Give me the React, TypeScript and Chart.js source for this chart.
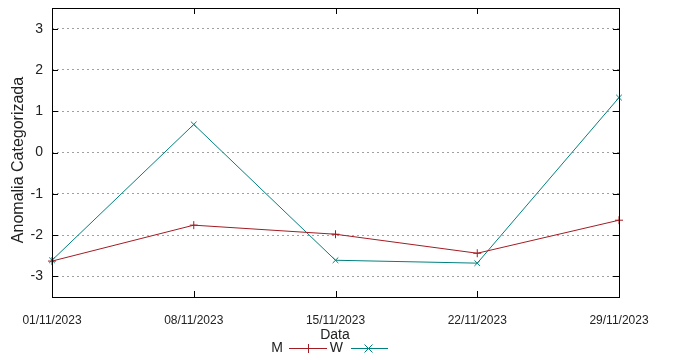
import React, { useEffect, useRef } from "react";
import { Chart, registerables } from "chart.js";

Chart.register(...registerables);

const categories = ["01/11/2023", "08/11/2023", "15/11/2023", "22/11/2023", "29/11/2023"];
const seriesM = [-2.63, -1.76, -1.98, -2.44, -1.64];
const seriesW = [-2.61, 0.68, -2.61, -2.68, 1.33];
const yTickValues = [-3, -2, -1, 0, 1, 2, 3];
const colorM = "#a31c23";
const colorW = "#00807f";
const FONT = "'Liberation Sans', Arial, sans-serif";

const framePlugin = {
  id: "frame",
  afterDraw(chart: any) {
    const { ctx, chartArea } = chart;
    const { left, right, top, bottom } = chartArea;
    const xs = chart.scales.x;
    const ys = chart.scales.y;
    ctx.save();
    ctx.strokeStyle = "#000";
    ctx.lineWidth = 1;
    ctx.beginPath();
    ys.ticks.forEach((t: any) => {
      const py = Math.round(ys.getPixelForValue(t.value)) + 0.5;
      ctx.moveTo(left, py);
      ctx.lineTo(left + 6, py);
      ctx.moveTo(right, py);
      ctx.lineTo(right - 6, py);
    });
    xs.ticks.forEach((_t: any, i: number) => {
      const px = Math.round(xs.getPixelForTick(i)) + 0.5;
      ctx.moveTo(px, bottom);
      ctx.lineTo(px, bottom - 6);
      ctx.moveTo(px, top);
      ctx.lineTo(px, top + 6);
    });
    ctx.stroke();
    ctx.strokeRect(Math.round(left) + 0.5, Math.round(top) + 0.5, Math.round(right - left), Math.round(bottom - top));

    ctx.fillStyle = "#222";
    ctx.save();
    ctx.translate(19, 160);
    ctx.rotate(-Math.PI / 2);
    ctx.font = `16px ${FONT}`;
    ctx.textAlign = "center";
    ctx.textBaseline = "middle";
    ctx.fillText("Anomalia Categorizada", 0, 0);
    ctx.restore();

    ctx.font = `14px ${FONT}`;
    ctx.textAlign = "center";
    ctx.textBaseline = "middle";
    ctx.fillText("Data", 335, 335);

    const ly = 348;
    ctx.textAlign = "right";
    ctx.fillText("M", 283, ly);
    ctx.fillText("W", 343, ly);
    ctx.lineWidth = 1;
    ctx.strokeStyle = colorM;
    ctx.beginPath();
    ctx.moveTo(289, ly + 0.5);
    ctx.lineTo(327, ly + 0.5);
    ctx.moveTo(308.5, ly - 4);
    ctx.lineTo(308.5, ly + 5);
    ctx.stroke();
    ctx.strokeStyle = colorW;
    ctx.beginPath();
    ctx.moveTo(351, ly + 0.5);
    ctx.lineTo(388, ly + 0.5);
    ctx.moveTo(364.5, ly - 3.5);
    ctx.lineTo(372.5, ly + 4.5);
    ctx.moveTo(372.5, ly - 3.5);
    ctx.lineTo(364.5, ly + 4.5);
    ctx.stroke();
    ctx.restore();
  },
};

export default function App() {
  const ref = useRef<HTMLCanvasElement>(null);
  useEffect(() => {
    document.body.style.margin = "0";
    const canvas = ref.current!;
    const chart = new Chart(canvas, {
      type: "line",
      data: {
        labels: categories,
        datasets: [
          {
            label: "M",
            data: seriesM,
            borderColor: colorM,
            backgroundColor: colorM,
            borderWidth: 1,
            pointStyle: "cross",
            pointRadius: 4,
            pointBorderWidth: 1,
            tension: 0,
          },
          {
            label: "W",
            data: seriesW,
            borderColor: colorW,
            backgroundColor: colorW,
            borderWidth: 1,
            pointStyle: "crossRot",
            pointRadius: 4,
            pointBorderWidth: 1,
            tension: 0,
          },
        ],
      },
      options: {
        responsive: false,
        animation: false,
        layout: { padding: { top: 8, right: 55, left: 0, bottom: 0 } },
        plugins: { legend: { display: false }, tooltip: { enabled: false } },
        scales: {
          x: {
            type: "category",
            offset: false,
            grid: { display: false, drawTicks: false },
            border: { display: false },
            ticks: {
              color: "#222",
              font: { family: FONT, size: 12 },
              padding: 16,
              maxRotation: 0,
              autoSkip: false,
            },
            afterFit: (s: any) => {
              s.height = 63;
            },
          },
          y: {
            min: -3.5,
            max: 3.5,
            grid: {
              color: "#a0a0a0",
              lineWidth: 1,
              drawTicks: false,
            },
            border: { display: false, dash: [2, 3] },
            ticks: {
              color: "#222",
              font: { family: FONT, size: 14 },
              padding: 9,
            },
            afterBuildTicks: (s: any) => {
              s.ticks = yTickValues.map((v) => ({ value: v }));
            },
            afterFit: (s: any) => {
              s.width = 52;
              s.paddingTop = 0;
              s.paddingBottom = 0;
            },
          },
        },
      },
      plugins: [framePlugin],
    } as any);
    return () => chart.destroy();
  }, []);
  return <canvas ref={ref} width={674} height={360} style={{ display: "block" }} />;
}
